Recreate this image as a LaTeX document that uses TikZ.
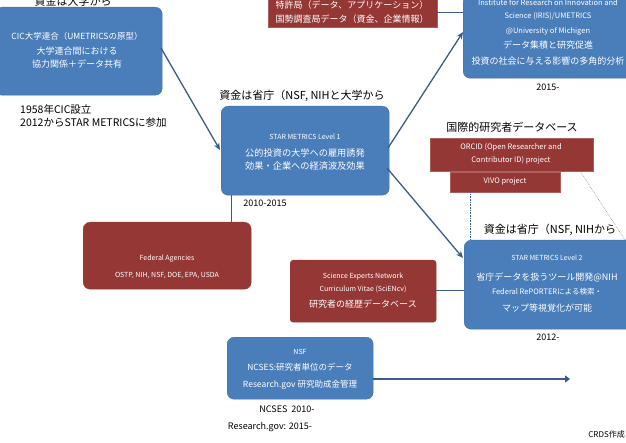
\documentclass[tikz,border=0pt]{standalone}
\usepackage{fontspec}
\setmainfont{Noto Sans CJK JP}
\usetikzlibrary{arrows.meta}
\definecolor{bboxc}{HTML}{4A7EBB}
\definecolor{bedge}{HTML}{41719C}
\definecolor{rboxc}{HTML}{953735}
\definecolor{arrc}{HTML}{385D8A}
\newcommand{\fs}[1]{\fontsize{#1}{#1}\selectfont}
\tikzset{
  bluebox/.style={fill=bboxc, draw=bedge, line width=0.4pt, rounded corners=7pt, anchor=north west, inner sep=0pt, text=white},
  redbox/.style={fill=rboxc, draw=rboxc!80!white, line width=0.4pt, anchor=north west, inner sep=0pt, text=white},
  wtext/.style={text=white, inner sep=0pt, align=center},
  lbl/.style={text=black, inner sep=0pt},
  conn/.style={draw=arrc, line width=1.3pt},
  arr/.style={conn, -{Stealth[length=7pt,width=6pt]}},
  dot/.style={draw=arrc, densely dotted, line width=0.6pt},
}
\begin{document}
\begin{tikzpicture}[x=1pt,y=-1pt]
\useasboundingbox (0,0) rectangle (626,443);
% boxes
\node[bluebox, minimum width=167pt, minimum height=88pt] (cic) at (-5,7) {};
\node[redbox, minimum width=169pt, minimum height=32pt] (patent) at (268,-5) {};
\node[bluebox, minimum width=175pt, minimum height=83pt] (iris) at (463,-5) {};
\node[bluebox, minimum width=168pt, minimum height=89pt] (lv1) at (221,106) {};
\node[redbox, minimum width=163pt, minimum height=33pt] (orcid) at (430,138) {};
\node[redbox, minimum width=110pt, minimum height=20pt] (vivo) at (450,172) {};
\node[bluebox, fill=rboxc, draw=rboxc, minimum width=168pt, minimum height=67pt] (fed) at (83,222) {};
\node[bluebox, fill=rboxc, draw=rboxc, rounded corners=3pt, minimum width=146pt, minimum height=62pt] (sci) at (290,260) {};
\node[bluebox, minimum width=172pt, minimum height=89pt] (lv2) at (464,240) {};
\node[bluebox, minimum width=146pt, minimum height=62pt] (nsf) at (227,337) {};

% box texts
\node[wtext] (cict1) at (77,36) {\fs{8.5}CIC大学連合（UMETRICSの原型）};
\node[wtext] (cict2) at (77,51) {\fs{9}大学連合間における};
\node[wtext] (cict3) at (77,64) {\fs{9}協力関係＋データ共有};

\node[wtext] (patt1) at (352,5) {\fs{9}特許局（データ、アプリケーション）};
\node[wtext] (patt2) at (352,19) {\fs{9}国勢調査局データ（資金、企業情報）};

\node[wtext] (irist1) at (548,3) {\fs{7.5}Institute for Research on Innovation and};
\node[wtext] (irist2) at (548,16) {\fs{7.5}Science (IRIS)/UMETRICS};
\node[wtext] (irist3) at (548,31) {\fs{7.5}@University of Michigen};
\node[wtext] (irist4) at (548,45) {\fs{9}データ集積と研究促進};
\node[wtext] (irist5) at (548,61) {\fs{9}投資の社会に与える影響の多角的分析};

\node[wtext] (lv1t1) at (305,137) {\fs{7}STAR METRICS Level 1};
\node[wtext] (lv1t2) at (305,153) {\fs{9.2}公的投資の大学への雇用誘発};
\node[wtext] (lv1t3) at (305,166) {\fs{9.2}効果・企業への経済波及効果};

\node[wtext] (orcidt1) at (511,147) {\fs{7.5}ORCID (Open Researcher and};
\node[wtext] (orcidt2) at (511,160) {\fs{7.5}Contributor ID) project};
\node[wtext] (vivot) at (505,182) {\fs{7.5}VIVO project};

\node[wtext] (fedt1) at (167,259) {\fs{7}Federal Agencies};
\node[wtext] (fedt2) at (167,276) {\fs{7}OSTP, NIH, NSF, DOE, EPA, USDA};

\node[wtext] (scit1) at (363,277) {\fs{7}Science Experts Network};
\node[wtext] (scit2) at (363,289) {\fs{7}Curriculum Vitae (SciENcv)};
\node[wtext] (scit3) at (363,304) {\fs{9}研究者の経歴データベース};

\node[wtext] (lv2t1) at (547,258) {\fs{7}STAR METRICS Level 2};
\node[wtext] (lv2t2) at (547,277) {\fs{9}省庁データを扱うツール開発@NIH};
\node[wtext] (lv2t3) at (547,292) {\fs{7.5}Federal RePORTERによる検索・};
\node[wtext] (lv2t4) at (547,308) {\fs{9}マップ等視覚化が可能};

\node[wtext] (nsft1) at (300,352) {\fs{7}NSF};
\node[wtext] (nsft2) at (300,367) {\fs{8.5}NCSES:研究者単位のデータ};
\node[wtext] (nsft3) at (300,385) {\fs{8.5}Research.gov 研究助成金管理};

% labels
\node[lbl] (l1) at (73,1) {\fs{11}資金は大学から};
\node[lbl, anchor=west] (l2) at (20,109) {\fs{10.5}1958年CIC設立};
\node[lbl, anchor=west] (l3) at (20,123) {\fs{10.5}2012からSTAR METRICSに参加};
\node[lbl] (l4) at (302,96) {\fs{11}資金は省庁（NSF, NIHと大学から};
\node[lbl] (l5) at (265,203) {\fs{9}2010-2015};
\node[lbl] (l6) at (548,87) {\fs{9}2015-};
\node[lbl] (l7) at (512,127) {\fs{11}国際的研究者データベース};
\node[lbl] (l8) at (550,230) {\fs{11}資金は省庁（NSF, NIHから};
\node[lbl] (l9) at (548,337) {\fs{9}2012-};
\node[lbl] (l10) at (287,409) {\fs{9}NCSES\ \ 2010-};
\node[lbl] (l11) at (270,427) {\fs{9}Research.gov: 2015-};
\node[lbl, anchor=east] (l12) at (625,434) {\fs{8}CRDS作成};

% connectors
\coordinate (cicout) at (161,48);
\coordinate (lv1in) at (220,150);
\draw[arr] (cicout) -- (lv1in);
\coordinate (lv1up) at (388,148);
\coordinate (irisin) at (463,32);
\draw[arr] (lv1up) -- (irisin);
\coordinate (lv1dn) at (387,168);
\coordinate (lv2in) at (463,258);
\draw[arr] (lv1dn) -- (lv2in);
\draw[conn, line width=0.8pt] (patent.east |- 0,12) -- (iris.west |- 0,12);
\draw[conn, line width=0.8pt] (lv1.south -| 231,0) -- (fed.north -| 231,0);
\draw[conn, line width=0.8pt] (sci.east |- 0,290) -- (lv2.west |- 0,290);
\draw[dot] (vivo.south -| 470,0) -- (lv2.north -| 470,0);
\coordinate (orcidcorner) at (580,171);
\coordinate (lv2corner) at (625,240);
\draw[dot, draw=arrc!70] (orcidcorner) -- (lv2corner);
\coordinate (nsfend) at (570,379);
\draw[conn, line width=2.5pt, -{Triangle[length=5pt,width=7pt]}] (nsf.east |- 0,379) -- (nsfend);
\end{tikzpicture}
\end{document}
